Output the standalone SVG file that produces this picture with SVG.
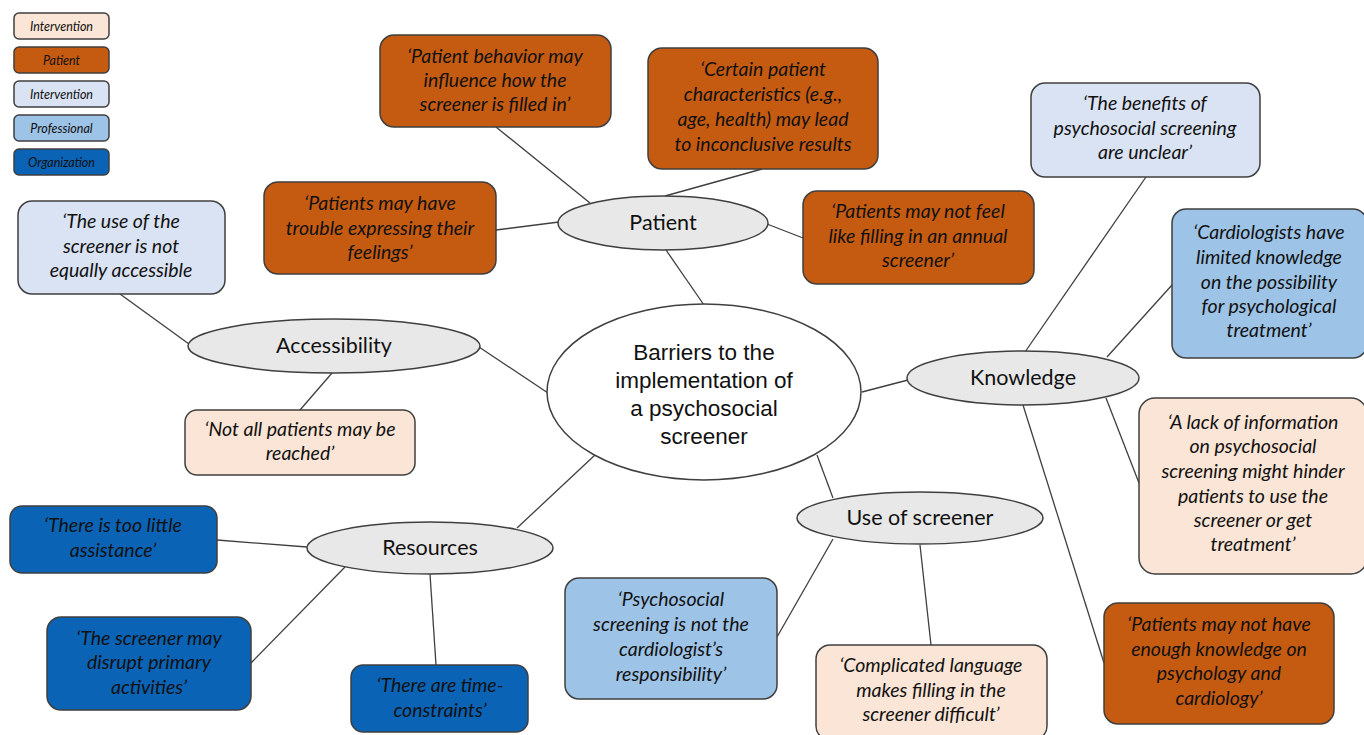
<svg xmlns="http://www.w3.org/2000/svg" width="1364" height="735" viewBox="0 0 1364 735">
<style>
.box{stroke:#3f3f3f;stroke-width:1.5}
.pi{fill:#fbe5d6}.pa{fill:#c55a11}.iv{fill:#dae3f3}.pr{fill:#9dc3e6}.or{fill:#0b63b6}
.q{font-family:Lato,"Open Sans",sans-serif;font-style:italic;font-size:19.5px;fill:#111111;text-anchor:middle}
.lg{font-family:Lato,"Open Sans",sans-serif;font-style:italic;font-size:12.5px;fill:#111111;text-anchor:middle}
.sub{fill:#e8e8e8;stroke:#3f3f3f;stroke-width:1.5}
.st{font-family:Lato,"Open Sans",sans-serif;font-size:21.5px;fill:#111111;text-anchor:middle}
.ct{font-family:"Liberation Sans",Arial,sans-serif;font-size:22.5px;fill:#111111;text-anchor:middle}
.c line{stroke:#3f3f3f;stroke-width:1.3}
</style>
<rect width="1364" height="735" fill="#ffffff"/>
<g id="connectors" class="c">
<line x1="496" y1="127" x2="590" y2="203"/>
<line x1="762" y1="169" x2="665" y2="196"/>
<line x1="496" y1="230" x2="559" y2="222"/>
<line x1="803" y1="238" x2="767" y2="224"/>
<line x1="666" y1="250" x2="704" y2="305"/>
<line x1="120" y1="294" x2="189" y2="344"/>
<line x1="479" y1="347" x2="548" y2="393"/>
<line x1="332" y1="373" x2="300" y2="410"/>
<line x1="862" y1="392" x2="908" y2="380"/>
<line x1="1025" y1="352" x2="1146" y2="177"/>
<line x1="1107" y1="357" x2="1172" y2="285"/>
<line x1="1106" y1="398" x2="1139" y2="483"/>
<line x1="1023" y1="405" x2="1104" y2="663"/>
<line x1="817" y1="455" x2="833" y2="498"/>
<line x1="833" y1="539" x2="777" y2="637"/>
<line x1="920" y1="545" x2="931" y2="645"/>
<line x1="595" y1="455" x2="517" y2="528"/>
<line x1="307" y1="547" x2="217" y2="540"/>
<line x1="345" y1="567" x2="251" y2="663"/>
<line x1="430" y1="574" x2="436" y2="665"/>
</g>
<g id="legend">
<rect class="box pi" x="14" y="13" width="95" height="26" rx="5"/><text class="lg" x="61.5" y="30.5">Intervention</text>
<rect class="box pa" x="14" y="47" width="95" height="26" rx="5"/><text class="lg" x="61.5" y="64.5">Patient</text>
<rect class="box iv" x="14" y="81" width="95" height="26" rx="5"/><text class="lg" x="61.5" y="98.5">Intervention</text>
<rect class="box pr" x="14" y="115" width="95" height="26" rx="5"/><text class="lg" x="61.5" y="132.5">Professional</text>
<rect class="box or" x="14" y="149" width="95" height="26" rx="5"/><text class="lg" x="61.5" y="166.5">Organization</text>
</g>
<g id="center">
<ellipse cx="704" cy="392" rx="157" ry="88" fill="#ffffff" stroke="#3f3f3f" stroke-width="1.5"/>
<text class="ct" x="704" y="360">Barriers to the</text>
<text class="ct" x="704" y="388">implementation of</text>
<text class="ct" x="704" y="416">a psychosocial</text>
<text class="ct" x="704" y="444">screener</text>
</g>
<g id="patient"><ellipse class="sub" cx="663" cy="223" rx="105" ry="27"/><text class="st" x="663" y="230">Patient</text></g>
<g id="accessibility"><ellipse class="sub" cx="334" cy="346" rx="146" ry="27"/><text class="st" x="334" y="353">Accessibility</text></g>
<g id="knowledge"><ellipse class="sub" cx="1023" cy="378" rx="116" ry="27"/><text class="st" x="1023" y="385">Knowledge</text></g>
<g id="use-of-screener"><ellipse class="sub" cx="920" cy="518" rx="123" ry="26"/><text class="st" x="920" y="525">Use of screener</text></g>
<g id="resources"><ellipse class="sub" cx="430" cy="548" rx="123" ry="26"/><text class="st" x="430" y="555">Resources</text></g>

<g id="q-behavior"><rect class="box pa" x="380" y="35" width="231" height="92" rx="14"/>
<text class="q" x="495" y="63">‘Patient behavior may</text><text class="q" x="495" y="87">influence how the</text><text class="q" x="495" y="111">screener is filled in’</text></g>
<g id="q-characteristics"><rect class="box pa" x="648" y="48" width="230" height="121" rx="14"/>
<text class="q" x="763" y="76">‘Certain patient</text><text class="q" x="763" y="101">characteristics (e.g.,</text><text class="q" x="763" y="126">age, health) may lead</text><text class="q" x="763" y="151">to inconclusive results</text></g>
<g id="q-feelings"><rect class="box pa" x="264" y="182" width="232" height="92" rx="14"/>
<text class="q" x="380" y="210">‘Patients may have</text><text class="q" x="380" y="235">trouble expressing their</text><text class="q" x="380" y="259">feelings’</text></g>
<g id="q-annual"><rect class="box pa" x="803" y="191" width="231" height="93" rx="14"/>
<text class="q" x="918" y="218">‘Patients may not feel</text><text class="q" x="918" y="243">like filling in an annual</text><text class="q" x="918" y="267">screener’</text></g>
<g id="q-benefits"><rect class="box iv" x="1031" y="83" width="229" height="94" rx="14"/>
<text class="q" x="1145" y="110">‘The benefits of</text><text class="q" x="1145" y="135">psychosocial screening</text><text class="q" x="1145" y="159">are unclear’</text></g>
<g id="q-cardiologists"><rect class="box pr" x="1172" y="209" width="195" height="149" rx="14"/>
<text class="q" x="1269" y="239">‘Cardiologists have</text><text class="q" x="1269" y="264">limited knowledge</text><text class="q" x="1269" y="289">on the possibility</text><text class="q" x="1269" y="313">for psychological</text><text class="q" x="1269" y="337">treatment’</text></g>
<g id="q-lack"><rect class="box pi" x="1139" y="398" width="228" height="176" rx="16"/>
<text class="q" x="1253" y="429">‘A lack of information</text><text class="q" x="1253" y="453">on psychosocial</text><text class="q" x="1253" y="478">screening might hinder</text><text class="q" x="1253" y="503">patients to use the</text><text class="q" x="1253" y="527">screener or get</text><text class="q" x="1253" y="551">treatment’</text></g>
<g id="q-enough"><rect class="box pa" x="1104" y="603" width="230" height="121" rx="14"/>
<text class="q" x="1219" y="631">‘Patients may not have</text><text class="q" x="1219" y="656">enough knowledge on</text><text class="q" x="1219" y="680">psychology and</text><text class="q" x="1219" y="705">cardiology’</text></g>
<g id="q-accessible"><rect class="box iv" x="18" y="201" width="207" height="93" rx="14"/>
<text class="q" x="121" y="228">‘The use of the</text><text class="q" x="121" y="253">screener is not</text><text class="q" x="121" y="277">equally accessible</text></g>
<g id="q-reached"><rect class="box pi" x="185" y="410" width="230" height="65" rx="12"/>
<text class="q" x="300" y="436">‘Not all patients may be</text><text class="q" x="300" y="460">reached’</text></g>
<g id="q-assistance"><rect class="box or" x="10" y="506" width="207" height="67" rx="12"/>
<text class="q" x="113" y="532">‘There is too little</text><text class="q" x="113" y="557">assistance’</text></g>
<g id="q-disrupt"><rect class="box or" x="47" y="617" width="204" height="93" rx="14"/>
<text class="q" x="149" y="645">‘The screener may</text><text class="q" x="149" y="669">disrupt primary</text><text class="q" x="149" y="694">activities’</text></g>
<g id="q-time"><rect class="box or" x="351" y="665" width="177" height="67" rx="12"/>
<text class="q" x="440" y="692">‘There are time-</text><text class="q" x="440" y="717">constraints’</text></g>
<g id="q-responsibility"><rect class="box pr" x="565" y="578" width="212" height="121" rx="14"/>
<text class="q" x="671" y="606">‘Psychosocial</text><text class="q" x="671" y="631">screening is not the</text><text class="q" x="671" y="656">cardiologist’s</text><text class="q" x="671" y="681">responsibility’</text></g>
<g id="q-language"><rect class="box pi" x="816" y="645" width="231" height="95" rx="14"/>
<text class="q" x="931" y="672">‘Complicated language</text><text class="q" x="931" y="697">makes filling in the</text><text class="q" x="931" y="721">screener difficult’</text></g>
</svg>
